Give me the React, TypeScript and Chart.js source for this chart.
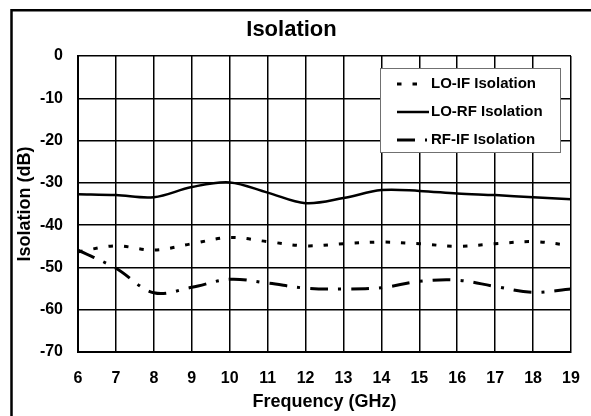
import React, { useEffect, useRef } from "react";
import { Chart, registerables } from "chart.js";

Chart.register(...registerables);

const frequencies = [6, 7, 8, 9, 10, 11, 12, 13, 14, 15, 16, 17, 18, 19];
const loIfIsolation = [-46.3, -44.9, -45.9, -44.4, -42.9, -43.9, -44.9, -44.4, -44.0, -44.4, -45.0, -44.4, -43.9, -44.8];
const loRfIsolation = [-32.7, -32.9, -33.4, -31.0, -29.9, -32.3, -34.8, -33.6, -31.7, -31.9, -32.5, -32.9, -33.4, -33.9];
const rfIfIsolation = [-45.9, -50.2, -56.0, -54.7, -52.8, -53.7, -54.9, -55.1, -54.8, -53.3, -53.0, -54.5, -55.9, -55.1];
const seriesNames = ["LO-IF Isolation", "LO-RF Isolation", "RF-IF Isolation"];

const FONT = "'Liberation Sans', Arial, sans-serif";

const framePlugin = {
  id: "frame",
  beforeDraw(chart: any) {
    const ctx = chart.ctx;
    ctx.save();
    ctx.fillStyle = "#ffffff";
    ctx.fillRect(0, 0, chart.width, chart.height);
    ctx.strokeStyle = "#000000";
    ctx.lineWidth = 2.5;
    ctx.beginPath();
    ctx.moveTo(11.5, chart.height + 2);
    ctx.lineTo(11.5, 10.3);
    ctx.lineTo(chart.width + 2, 10.3);
    ctx.stroke();
    ctx.restore();
  },
};

const legendBoxPlugin = {
  id: "legendBox",
  afterDraw(chart: any) {
    const ctx = chart.ctx;
    const datasets = chart.data.datasets;
    ctx.save();
    const bx = 380.5, by = 68.5, bw = 180, bh = 84;
    ctx.fillStyle = "#ffffff";
    ctx.fillRect(bx, by, bw, bh);
    ctx.strokeStyle = "#707070";
    ctx.lineWidth = 1;
    ctx.strokeRect(bx, by, bw, bh);
    const rows = [84, 112, 140];
    const ends = [418, 429, 427];
    datasets.forEach((ds: any, i: number) => {
      const y = rows[i];
      ctx.strokeStyle = "#000000";
      ctx.lineWidth = ds.borderWidth;
      ctx.setLineDash(ds.borderDash || []);
      ctx.lineDashOffset = 0;
      ctx.beginPath();
      ctx.moveTo(397, y);
      ctx.lineTo(ends[i], y);
      ctx.stroke();
      ctx.setLineDash([]);
      ctx.fillStyle = "#000000";
      ctx.font = `bold 15px ${FONT}`;
      ctx.textAlign = "left";
      ctx.textBaseline = "middle";
      ctx.fillText(ds.label, 431, y);
    });
    ctx.restore();
  },
};

export default function App() {
  const canvasRef = useRef<HTMLCanvasElement | null>(null);

  useEffect(() => {
    const canvas = canvasRef.current;
    if (!canvas) return;
    const mk = (vals: number[]) => frequencies.map((x, i) => ({ x, y: vals[i] }));
    const chart = new Chart(canvas, {
      type: "line",
      data: {
        datasets: [
          {
            label: seriesNames[0],
            data: mk(loIfIsolation),
            borderColor: "#000000",
            borderWidth: 3,
            borderDash: [4.5, 11],
            pointRadius: 0,
            tension: 0.35,
            fill: false,
          },
          {
            label: seriesNames[1],
            data: mk(loRfIsolation),
            borderColor: "#000000",
            borderWidth: 2.5,
            pointRadius: 0,
            tension: 0.35,
            fill: false,
          },
          {
            label: seriesNames[2],
            data: mk(rfIfIsolation),
            borderColor: "#000000",
            borderWidth: 3,
            borderDash: [18, 10, 3, 10],
            pointRadius: 0,
            tension: 0.35,
            fill: false,
          },
        ],
      },
      options: {
        responsive: false,
        animation: false,
        devicePixelRatio: 1,
        layout: { padding: { left: 12, right: 20, top: 0, bottom: 0 } },
        plugins: {
          legend: { display: false },
          tooltip: { enabled: false },
          title: {
            display: true,
            text: "Isolation",
            color: "#000000",
            font: { family: FONT, size: 22, weight: "bold", lineHeight: 1.2 },
            padding: { top: 17, bottom: 12.6 },
          },
        },
        scales: {
          x: {
            type: "linear",
            min: 6,
            max: 19,
            ticks: {
              stepSize: 1,
              color: "#000000",
              padding: 3,
              font: { family: FONT, size: 16, weight: "bold", lineHeight: 1.2 },
            },
            grid: { color: "#000000", lineWidth: 1.5, drawTicks: true, tickLength: 14, tickColor: "rgba(0,0,0,0)" },
            border: { display: true, color: "#000000", width: 2 },
            title: {
              display: true,
              text: "Frequency (GHz)",
              color: "#000000",
              font: { family: FONT, size: 18, weight: "bold", lineHeight: 1.2 },
              padding: { top: 0, bottom: 3 },
            },
            afterFit(scale: any) {
              scale.height = 64;
            },
          },
          y: {
            type: "linear",
            min: -70,
            max: 0,
            ticks: {
              stepSize: 10,
              color: "#000000",
              padding: 3,
              font: { family: FONT, size: 16, weight: "bold", lineHeight: 1.2 },
            },
            grid: { color: "#000000", lineWidth: 1.5, drawTicks: true, tickLength: 12, tickColor: "rgba(0,0,0,0)" },
            border: { display: true, color: "#000000", width: 2 },
            title: {
              display: true,
              text: "Isolation (dB)",
              color: "#000000",
              font: { family: FONT, size: 18, weight: "bold", lineHeight: 1.2 },
              padding: { top: 2, bottom: 0 },
            },
            afterFit(scale: any) {
              scale.width = 66;
            },
          },
        },
      },
      plugins: [framePlugin, legendBoxPlugin],
    } as any);
    return () => chart.destroy();
  }, []);

  return (
    <div style={{ position: "fixed", left: 0, top: 0, width: 591, height: 416, overflow: "hidden", background: "#ffffff" }}>
      <canvas ref={canvasRef} width={591} height={416} style={{ display: "block", width: 591, height: 416 }} />
    </div>
  );
}
